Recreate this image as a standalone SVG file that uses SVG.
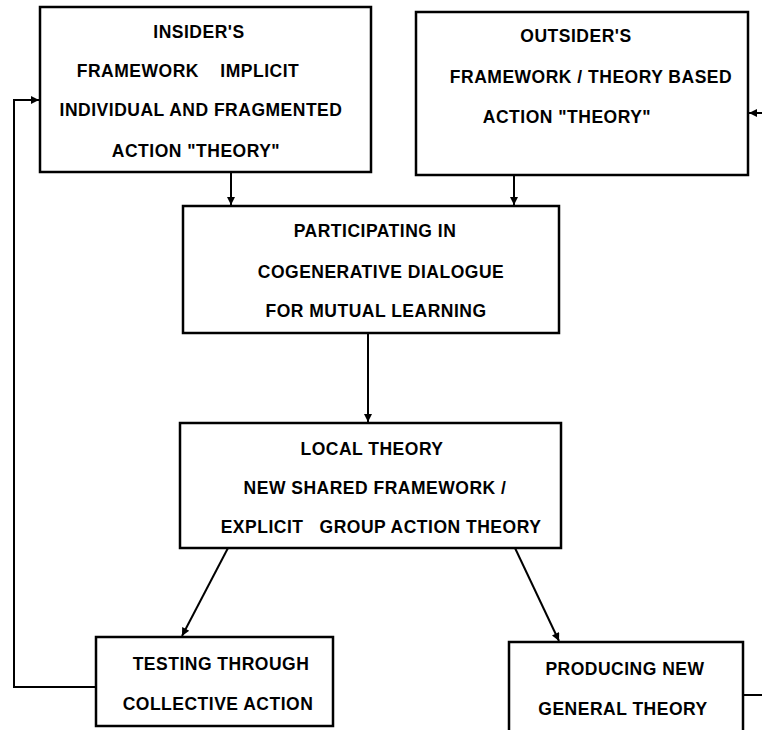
<svg xmlns="http://www.w3.org/2000/svg" width="762" height="730" viewBox="0 0 762 730">
  <style>
    .box { fill: #fff; stroke: #000; stroke-width: 2.5; }
    .lbl { font-family: "Liberation Sans", Arial, sans-serif; font-weight: bold; font-size: 17.5px; letter-spacing: 0.5px; fill: #000; text-anchor: middle; }
    .wire { fill: none; stroke: #000; stroke-width: 2; }
  </style>
  <defs>
    <marker id="head" viewBox="0 0 10 10" refX="10" refY="5" markerWidth="11" markerHeight="8" markerUnits="userSpaceOnUse" orient="auto">
      <path d="M0,0 L10,5 L0,10 Z" fill="#000"/>
    </marker>
  </defs>
  <rect width="762" height="730" fill="#fff"/>

  <g id="connectors">
    <!-- insider -> participating -->
    <line class="wire" x1="231" y1="172" x2="231" y2="205" marker-end="url(#head)"/>
    <!-- outsider -> participating -->
    <line class="wire" x1="514" y1="175" x2="514" y2="205" marker-end="url(#head)"/>
    <!-- participating -> local theory -->
    <line class="wire" x1="368" y1="333" x2="368" y2="422" marker-end="url(#head)"/>
    <!-- local theory -> testing -->
    <line class="wire" x1="228" y1="548" x2="182" y2="636" marker-end="url(#head)"/>
    <!-- local theory -> producing -->
    <line class="wire" x1="515" y1="548" x2="559" y2="641" marker-end="url(#head)"/>
    <!-- testing feeds back to insider -->
    <polyline class="wire" points="96,687 14,687 14,100 39,100" marker-end="url(#head)"/>
    <!-- producing feeds back to outsider -->
    <line class="wire" x1="743" y1="695" x2="762" y2="695"/>
    <line class="wire" x1="762" y1="113" x2="749" y2="113" marker-end="url(#head)"/>
  </g>

  <g id="insider">
    <rect class="box" x="40" y="7" width="331" height="165"/>
    <text class="lbl" x="199" y="38">INSIDER'S</text>
    <text class="lbl" x="188" y="77" xml:space="preserve">FRAMEWORK    IMPLICIT</text>
    <text class="lbl" x="201" y="116">INDIVIDUAL AND FRAGMENTED</text>
    <text class="lbl" x="196" y="157">ACTION "THEORY"</text>
  </g>

  <g id="outsider">
    <rect class="box" x="416" y="12" width="332" height="163"/>
    <text class="lbl" x="576" y="42">OUTSIDER'S</text>
    <text class="lbl" x="591" y="83">FRAMEWORK / THEORY BASED</text>
    <text class="lbl" x="567" y="123">ACTION "THEORY"</text>
  </g>

  <g id="participating">
    <rect class="box" x="183" y="206" width="376" height="127"/>
    <text class="lbl" x="375" y="237">PARTICIPATING IN</text>
    <text class="lbl" x="381" y="278">COGENERATIVE DIALOGUE</text>
    <text class="lbl" x="376" y="317">FOR MUTUAL LEARNING</text>
  </g>

  <g id="local-theory">
    <rect class="box" x="180" y="423" width="381" height="125"/>
    <text class="lbl" x="372" y="455">LOCAL THEORY</text>
    <text class="lbl" x="375" y="494">NEW SHARED FRAMEWORK /</text>
    <text class="lbl" x="381" y="533" xml:space="preserve">EXPLICIT   GROUP ACTION THEORY</text>
  </g>

  <g id="testing">
    <rect class="box" x="96" y="637" width="237" height="89"/>
    <text class="lbl" x="221" y="670">TESTING THROUGH</text>
    <text class="lbl" x="218" y="710">COLLECTIVE ACTION</text>
  </g>

  <g id="producing">
    <rect class="box" x="509" y="642" width="234" height="95"/>
    <text class="lbl" x="625" y="675">PRODUCING NEW</text>
    <text class="lbl" x="623" y="715">GENERAL THEORY</text>
  </g>
</svg>
